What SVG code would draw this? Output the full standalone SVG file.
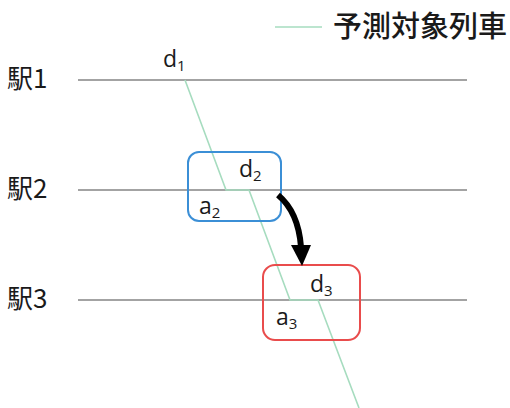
<svg xmlns="http://www.w3.org/2000/svg" width="510" height="408" viewBox="0 0 510 408">
<style>
.st{stroke:#a3a3a3;stroke-width:2;fill:none}
.tr{stroke:#a6dcbf;stroke-width:1.6;fill:none}
.lbl{font-family:"Noto Sans CJK JP","Noto Sans",sans-serif;font-size:26px;fill:#1a1a1a}
.lg{font-family:"Noto Sans CJK JP","Noto Sans",sans-serif;font-size:29px;fill:#1a1a1a;font-weight:500}
.v{font-family:"Open Sans","Liberation Sans",sans-serif;font-size:23px;fill:#1a1a1a}
.s{font-size:15px}
</style>
<rect width="510" height="408" fill="#fff"/>
<g id="legend">
<line x1="275" y1="27" x2="322" y2="27" class="tr" stroke-width="2"/>
<text x="333" y="37" class="lg">予測対象列車</text>
</g>
<g id="station1">
<line x1="78" y1="80" x2="467" y2="80" class="st"/>
<text x="7" y="88" class="lbl">駅1</text>
</g>
<g id="station2">
<line x1="78" y1="190" x2="467" y2="190" class="st"/>
<text x="7" y="198" class="lbl">駅2</text>
</g>
<g id="station3">
<line x1="78" y1="300" x2="467" y2="300" class="st"/>
<text x="7" y="308" class="lbl">駅3</text>
</g>
<g id="train">
<polyline class="tr" points="185,80 226,190 249,190 290,300 318,300 359,408"/>
</g>
<g id="box2">
<rect x="188" y="152" width="93" height="69" rx="11" fill="none" stroke="#3b8fd6" stroke-width="2"/>
<text x="239" y="177" class="v">d<tspan class="s" dy="4">2</tspan></text>
<text x="199" y="214" class="v">a<tspan class="s" dy="4">2</tspan></text>
</g>
<g id="box3">
<rect x="263" y="265" width="97" height="75" rx="12" fill="none" stroke="#e94c4c" stroke-width="2"/>
<text x="310" y="292" class="v">d<tspan class="s" dy="4">3</tspan></text>
<text x="276" y="325" class="v">a<tspan class="s" dy="4">3</tspan></text>
</g>
<g id="d1label">
<text x="163" y="67" class="v">d<tspan class="s" dy="4">1</tspan></text>
</g>
<g id="connectors">
<path d="M278,195 C290,205 299,220 301,247" fill="none" stroke="#000" stroke-width="6"/>
<polygon points="291,245 311,245 302,266" fill="#000"/>
</g>
</svg>
